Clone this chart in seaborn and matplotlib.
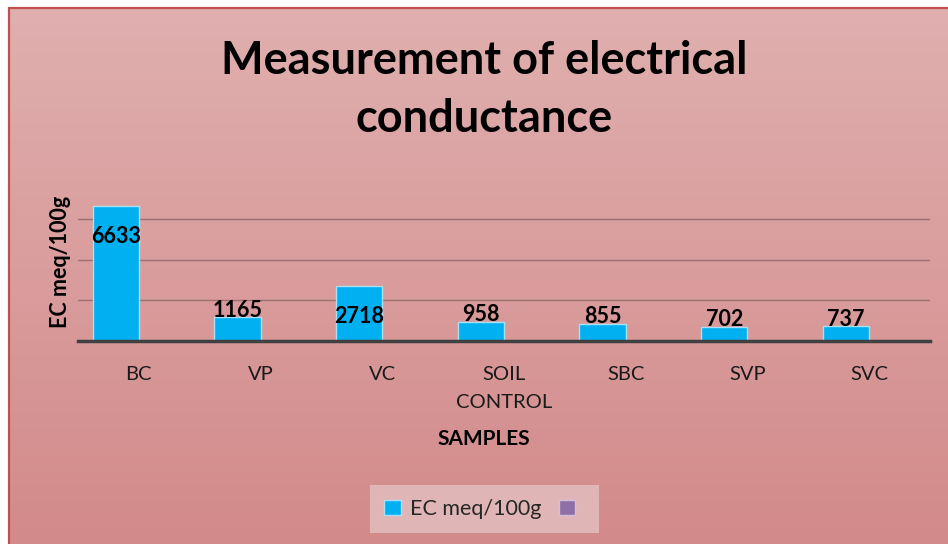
import numpy as np
import pandas as pd
import matplotlib
matplotlib.use("Agg")
import matplotlib.pyplot as plt
from matplotlib.patches import Patch
from matplotlib.lines import Line2D
from matplotlib.colors import LinearSegmentedColormap
import seaborn as sns

SAMPLES = ["BC", "VP", "VC", "SOIL\nCONTROL", "SBC", "SVP", "SVC"]
EC_VALUES = [6633, 1165, 2718, 958, 855, 702, 737]
SERIES_NAME = "EC meq/100g"
EMPTY_SERIES = [np.nan] * 7   # second (empty) series in the legend
GRID_TICKS = [2000, 4000, 6000]

W, H = 948, 544

sns.set_theme(style="white")
plt.rcParams['font.family'] = ['Lato', 'DejaVu Sans']

fig = plt.figure(figsize=(W / 100, H / 100), dpi=100)
fig.patch.set_facecolor('white')

# chart area background: vertical pink gradient with a red frame
bg = fig.add_axes([9 / W, 0, 1 - 9 / W, 1 - 8 / H], zorder=0)
cmap = LinearSegmentedColormap.from_list("bg", ["#d38a8a", "#e0afaf"])
grad = np.linspace(0, 1, 256).reshape(-1, 1)
bg.imshow(grad, aspect='auto', cmap=cmap, origin='lower', extent=[0, 1, 0, 1])
bg.set_axis_off()
fig.add_artist(Line2D([9 / W, 9 / W], [0, 1 - 8 / H], color='#c0504d', lw=1.6))
fig.add_artist(Line2D([9 / W, 1], [1 - 8 / H, 1 - 8 / H], color='#c0504d', lw=1.6))

# plot area
x0, x1, y_base, y_top = 78, 930, 341, 198.6
ax = fig.add_axes([x0 / W, (H - y_base) / H, (x1 - x0) / W, (y_base - y_top) / H], zorder=1)
ax.set_facecolor('none')

df = pd.DataFrame({
    "Sample": SAMPLES * 2,
    "EC": EC_VALUES + EMPTY_SERIES,
    "Series": [SERIES_NAME] * len(SAMPLES) + ["Series2"] * len(SAMPLES),
})
sns.barplot(data=df, x="Sample", y="EC", hue="Series",
            hue_order=[SERIES_NAME, "Series2"],
            palette=["#00b0f0", "#8e6fa6"], saturation=1,
            width=0.76, gap=0, edgecolor="#a8e0f5", linewidth=1,
            legend=False, ax=ax)

ax.set_xlim(-0.5, len(SAMPLES) - 0.5)
ax.set_ylim(0, 7000)
ax.set_yticks(GRID_TICKS)
ax.set_yticklabels([])
ax.tick_params(length=0)
ax.tick_params(axis='x', pad=18, labelsize=14.5, labelcolor='#1a1a1a')
for lab in ax.get_xticklabels():
    lab.set_linespacing(1.75)
ax.grid(axis='y', color='#9b7070', lw=1)
ax.set_axisbelow(True)
for s in ['left', 'right', 'top']:
    ax.spines[s].set_visible(False)
ax.spines['bottom'].set_color('#404040')
ax.spines['bottom'].set_linewidth(2.5)

bar_w = 0.38
for i, v in enumerate(EC_VALUES):
    ax.annotate(f"{v}", (i - bar_w / 2, v), xytext=(0, -22 if v > 2000 else 5),
                textcoords='offset points', ha='center', va='center',
                fontsize=15.5, fontweight='bold', color='black')

ax.set_xlabel("SAMPLES", fontsize=15, fontweight='bold', color='black')
ax.xaxis.set_label_coords((484 - x0) / (x1 - x0), -(429 - y_base) / (y_base - y_top))
ax.set_ylabel(SERIES_NAME, fontsize=15.5, fontweight='bold', color='black')
ax.yaxis.set_label_coords(-(x0 - 71) / (x1 - x0), (y_base - 262) / (y_base - y_top))

fig.text(484 / W, 1 - 90 / H, "Measurement of electrical\nconductance",
         ha='center', va='center', fontsize=32.5, fontweight='bold',
         linespacing=1.5, color='black')

handles = [Patch(facecolor='#00b0f0', edgecolor='#a8e0f5'),
           Patch(facecolor='#8e6fa6', edgecolor='#d0c0e0')]
leg = fig.legend(handles=handles, labels=[SERIES_NAME, ""], loc='center',
                 bbox_to_anchor=(484.5 / W, 1 - 509 / H), ncol=2,
                 frameon=True, fancybox=False, facecolor='#e0b5b5',
                 edgecolor='none', framealpha=1, fontsize=15.5,
                 handlelength=0.75, handleheight=0.75, handletextpad=0.45,
                 columnspacing=0.8, borderpad=0.65)
leg.set_zorder(2)

fig.savefig("out.png", dpi=100)
